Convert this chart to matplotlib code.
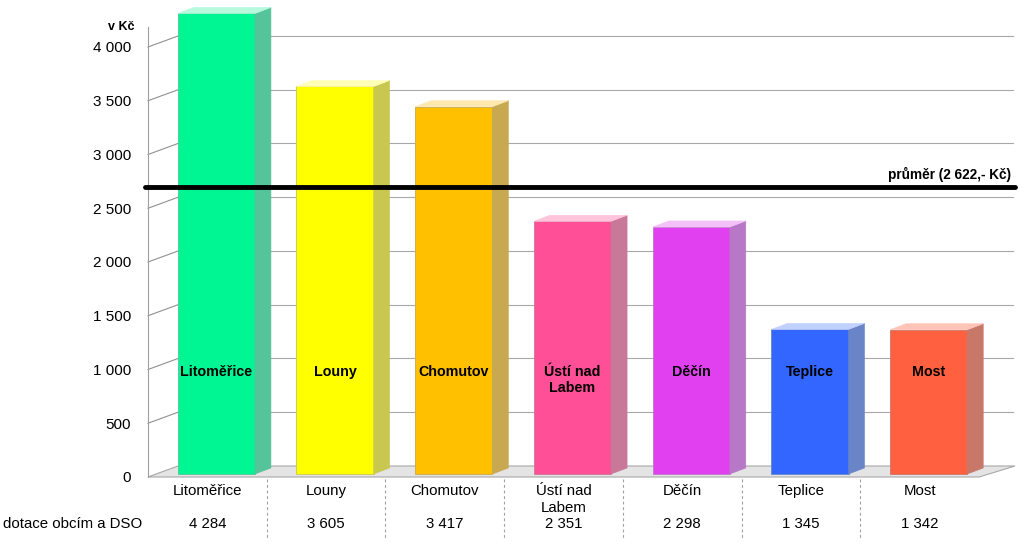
"""
Dotace obcím a DSO podle okresů - 3D sloupcový graf s tabulkou
"""

import matplotlib
matplotlib.use("Agg")
import matplotlib.pyplot as plt
from matplotlib.patches import Polygon
from matplotlib import transforms

districts = ["Litoměřice", "Louny", "Chomutov", "Ústí nad\nLabem", "Děčín", "Teplice", "Most"]
values = [4284, 3605, 3417, 2351, 2298, 1345, 1342]
front_colors = ["#00F593", "#FFFF00", "#FFC000", "#FF4F96", "#E040F0", "#3366FF", "#FF6040"]
side_colors = ["#55C49A", "#C8C850", "#C8A850", "#C87898", "#B878C8", "#6A84C8", "#C87868"]
top_colors = ["#B8F8DC", "#FFFFB8", "#FFE8B0", "#FFC4DC", "#F4C0F8", "#C0D0FF", "#FFC4B8"]
average = 2622
row_label = "dotace obcím a DSO"
y_ticks = [0, 500, 1000, 1500, 2000, 2500, 3000, 3500, 4000]

plt.rcParams['font.family'] = ['Liberation Sans', 'DejaVu Sans']


def fmt(v):
    return "{:,}".format(v).replace(",", " ")


W, H = 1024, 544
fig = plt.figure(figsize=(W / 100, H / 100), dpi=100)
ax = fig.add_axes([148 / W, 67 / H, 831 / W, 450 / H])
ax.set_xlim(-0.5, len(values) - 0.5)
ax.set_ylim(0, 4186)
for s in ["top", "right", "bottom"]:
    ax.spines[s].set_visible(False)
ax.spines["left"].set_color("#A0A0A0")
ax.set_xticks([])
ax.set_yticks(y_ticks)
ax.set_yticklabels([fmt(t) for t in y_ticks], fontsize=11)
ax.tick_params(axis="y", length=0, pad=12)

wall_dx, wall_dy = 30, 11      # hloubka zadní stěny v px
bar_dx, bar_dy = 9, 3          # posun sloupců do hloubky
depth_dx, depth_dy = 16, 6     # hloubka sloupce
bar_w = 0.65


def px(x, y):
    return ax.transData.transform((x, y))


def poly(pts, **kw):
    p = Polygon(pts, closed=True, transform=None, clip_on=False, **kw)
    ax.add_artist(p)


# podlaha
x0, x1 = ax.get_xlim()
fl, fr = px(x0, 0), px(x1, 0)
poly([fl, fr, (fr[0] + wall_dx + 6, fr[1] + wall_dy), (fl[0] + wall_dx, fl[1] + wall_dy)],
     facecolor="#E4E4E4", edgecolor="#A8A8A8", lw=0.8, zorder=1)

# mřížka na zadní a boční stěně
for t in y_ticks[1:]:
    a, b = px(x0, t), px(x1, t)
    ax.add_line(plt.Line2D([a[0], a[0] + wall_dx], [a[1], a[1] + wall_dy], transform=None,
                           color="#909090", lw=0.8, clip_on=False, zorder=1))
    ax.add_line(plt.Line2D([a[0] + wall_dx, b[0] + wall_dx + 4], [a[1] + wall_dy, b[1] + wall_dy],
                           transform=None, color="#A8A8A8", lw=0.8, clip_on=False, zorder=1))

# 3D sloupce
for i, (v, fc, sc, tc) in enumerate(zip(values, front_colors, side_colors, top_colors)):
    bl = px(i - bar_w / 2, 0)
    tr = px(i + bar_w / 2, v)
    l, r = bl[0] + bar_dx, tr[0] + bar_dx
    b, t = bl[1] + bar_dy, tr[1] + bar_dy
    poly([(l, b), (r, b), (r, t), (l, t)], facecolor=fc, edgecolor=sc, lw=0.6, zorder=3)
    poly([(r, b), (r + depth_dx, b + depth_dy), (r + depth_dx, t + depth_dy), (r, t)],
         facecolor=sc, edgecolor=sc, lw=0.4, zorder=3)
    poly([(l, t), (r, t), (r + depth_dx, t + depth_dy), (l + depth_dx, t + depth_dy)],
         facecolor=tc, edgecolor=tc, lw=0.4, zorder=3)
    ax.text((l + r) / 2, px(i, 1010)[1] + bar_dy, districts[i], transform=None,
            ha="center", va="top", fontsize=10.3, fontweight="bold", zorder=4,
            linespacing=1.15)

# průměr
off = transforms.ScaledTranslation(0, 8 / 100, fig.dpi_scale_trans)
avg_tr = transforms.blended_transform_factory(ax.transAxes, ax.transData) + off
ax.plot([-0.004, 1.043], [average, average], color="black", lw=3.5, transform=avg_tr,
        clip_on=False, zorder=5, solid_capstyle="round")
ax.text(1.039, average, "průměr ({},- Kč)".format(fmt(average)), transform=avg_tr
        + transforms.ScaledTranslation(0, 5 / 100, fig.dpi_scale_trans),
        ha="right", va="bottom", fontsize=9.8, fontweight="bold", zorder=5)

# jednotka
ax.text(-0.016, 4186, "v Kč", transform=transforms.blended_transform_factory(ax.transAxes, ax.transData),
        ha="right", va="center", fontsize=9, fontweight="bold")

# tabulka pod grafem
tab = transforms.blended_transform_factory(ax.transData, fig.transFigure)
for i, (d, v) in enumerate(zip(districts, values)):
    ax.text(i, 1 - 484 / H, d, transform=tab, ha="center", va="top", fontsize=10.8,
            linespacing=1.25, clip_on=False)
    ax.text(i, 1 - 524 / H, fmt(v), transform=tab, ha="center", va="center", fontsize=10.8,
            clip_on=False)
for i in range(len(values) - 1):
    ax.plot([i + 0.5, i + 0.5], [1 - 479 / H, 1 - 538 / H], transform=tab, color="#A0A0A0",
            lw=0.8, ls=(0, (2.5, 2.5)), clip_on=False)
fig.text(3 / W, 1 - 524 / H, row_label, ha="left", va="center", fontsize=10.8)

fig.savefig("out.png", dpi=100)
